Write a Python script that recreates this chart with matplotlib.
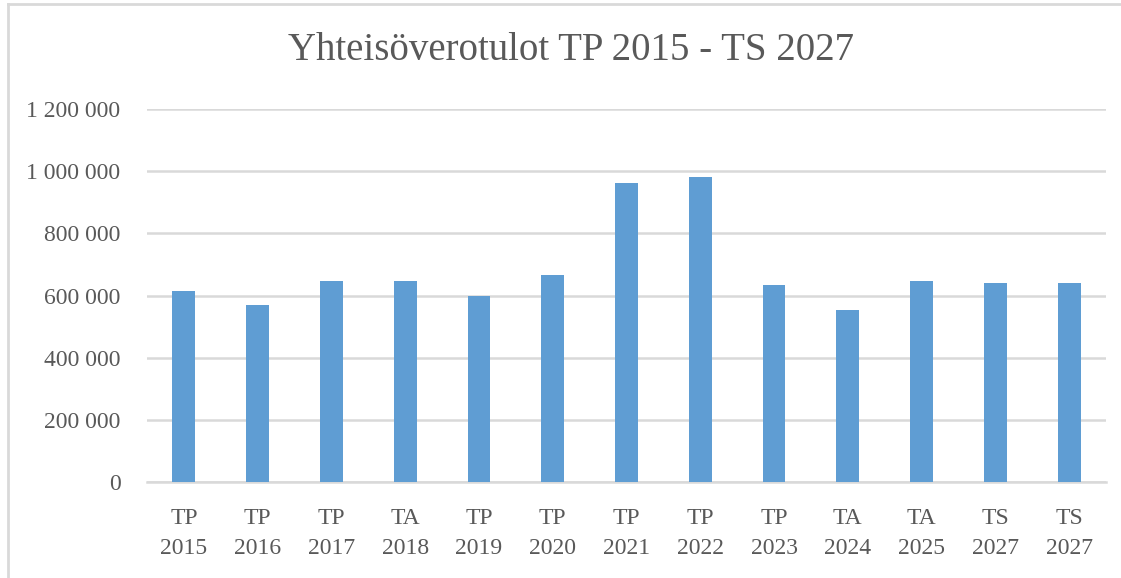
import matplotlib
matplotlib.use("Agg")
import matplotlib.pyplot as plt
from matplotlib.lines import Line2D

categories = ["TP\n2015", "TP\n2016", "TP\n2017", "TA\n2018", "TP\n2019", "TP\n2020",
              "TP\n2021", "TP\n2022", "TP\n2023", "TA\n2024", "TA\n2025", "TS\n2027", "TS\n2027"]
values = [613000, 570000, 647000, 648000, 598000, 666000,
          961000, 982000, 634000, 552000, 646000, 639000, 639000]
yticks = [0, 200000, 400000, 600000, 800000, 1000000, 1200000]
ytick_labels = ["0", "200 000", "400 000", "600 000", "800 000", "1 000 000", "1 200 000"]
title = "Yhteisöverotulot TP 2015 - TS 2027"

plt.rcParams['font.family'] = ['Liberation Serif', 'DejaVu Serif']
text_color = "#595959"
grid_color = "#D9D9D9"
bar_color = "#5F9DD3"

W, H = 1121, 578
fig = plt.figure(figsize=(W / 100, H / 100), dpi=100)
ax = fig.add_axes([147 / W, 1 - 482 / H, (1106 - 147) / W, (482 - 109) / H])

x = list(range(len(categories)))
ax.bar(x, values, width=0.31, color=bar_color, zorder=3)
ax.set_xlim(-0.5, len(categories) - 0.5)
ax.set_ylim(0, 1200000)
ax.set_yticks(yticks)
ax.set_yticklabels(ytick_labels)
ax.set_xticks(x)
ax.set_xticklabels(categories, linespacing=1.55)
ax.tick_params(axis='both', length=0, labelsize=17, colors=text_color)
ax.tick_params(axis='y', pad=19)
ax.tick_params(axis='x', pad=19)
ax.yaxis.grid(True, color=grid_color, linewidth=1.8, zorder=0)
for s in ['top', 'right', 'left']:
    ax.spines[s].set_visible(False)
ax.spines['bottom'].set_color(grid_color)
ax.spines['bottom'].set_linewidth(1.8)

fig.text(0.5 * (285 + 858) / W, 1 - 51 / H, title, ha='center', va='center',
         fontsize=28, color=text_color)

# chart border (top and left)
fig.add_artist(Line2D([8 / W, 1], [1 - 4 / H, 1 - 4 / H], color=grid_color, linewidth=2,
                      transform=fig.transFigure))
fig.add_artist(Line2D([8 / W, 8 / W], [0, 1 - 4 / H], color=grid_color, linewidth=2,
                      transform=fig.transFigure))

fig.savefig("out.png", dpi=100)
